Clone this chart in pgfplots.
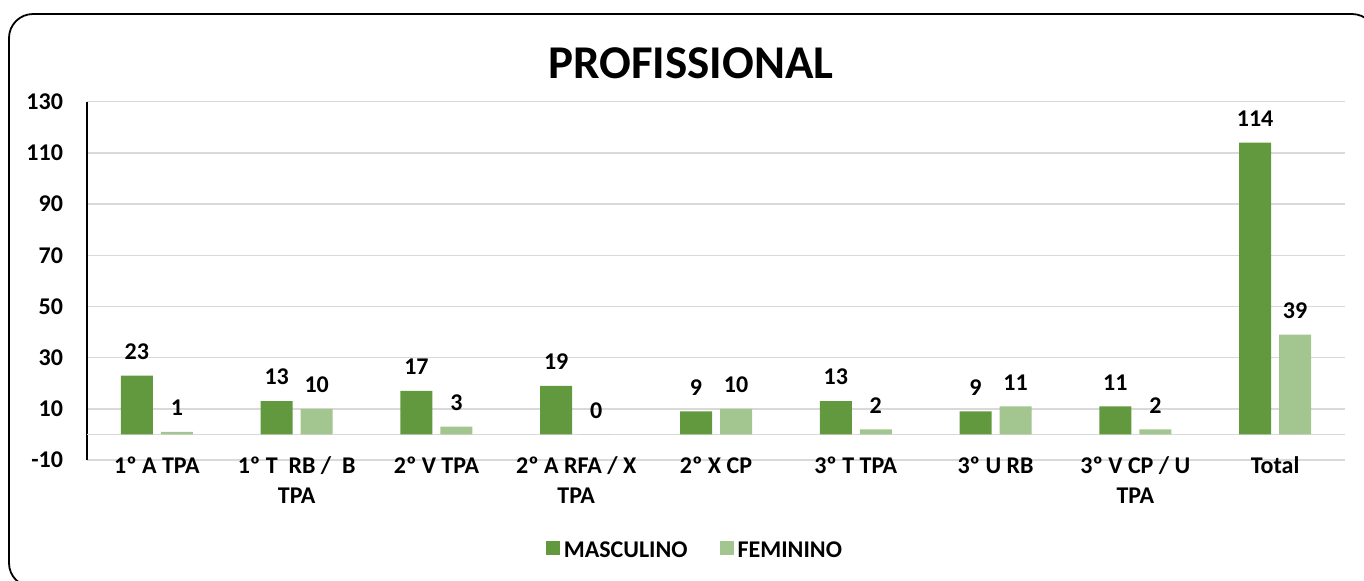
\documentclass[border=0pt]{standalone}
\usepackage{pgfplots}
\pgfplotsset{compat=1.18}
\usepackage{fontspec}
\setmainfont{Carlito}
\definecolor{masc}{HTML}{62993E}
\definecolor{fem}{HTML}{A3C58F}
\definecolor{gridc}{HTML}{D9D9D9}

\begin{document}
\begin{tikzpicture}
\path[use as bounding box] (0,0) rectangle (682pt,-290pt);
\draw[line width=0.9pt, rounded corners=12pt] (4.5pt,-7pt) rectangle (688pt,-293.5pt);
\node[font=\fontsize{23.5}{28}\selectfont\bfseries] at (345.5pt,-31.75pt) {PROFISSIONAL};
\begin{axis}[
  at={(43.5pt,-230pt)}, anchor=south west,
  scale only axis, width=629pt, height=179.15pt,
  xmin=-0.5, xmax=8.5, ymin=-10, ymax=130,
  ybar, bar width=16pt,
  axis lines*=left,
  x axis line style={draw=none},
  y axis line style={line width=1pt, black},
  ytick={-10,10,30,50,70,90,110,130},
  yticklabels={-10,10,30,50,70,90,110,130},
  ymajorgrids,
  major grid style={gridc, line width=0.75pt},
  extra y ticks={0}, extra y tick labels={},
  extra y tick style={grid=major, major grid style={gridc, line width=0.75pt}},
  xtick={0,1,2,3,4,5,6,7,8},
  xticklabels={1º A TPA, {1º T~ RB /~ B\\TPA}, 2º V TPA, {2º A RFA / X\\TPA}, 2º X CP, 3º T TPA, 3º U RB, {3º V CP / U\\TPA}, Total},
  major tick length=0pt,
  yticklabel style={font=\fontsize{12}{14}\selectfont\bfseries, xshift=-8.5pt},
  xticklabel style={font=\fontsize{12}{15}\selectfont\bfseries, align=center, yshift=5pt},
  /pgf/number format/assume math mode=true,
  nodes near coords,
  nodes near coords style={font=\fontsize{12}{14}\selectfont\bfseries, yshift=4.5pt, text=black},
  legend style={at={(0.484,-0.255)}, anchor=center, draw=none, legend columns=2,
    font=\fontsize{12}{14}\selectfont\bfseries,
    /tikz/every even column/.append style={column sep=14pt}},
  legend image code/.code={\fill[#1] (-1pt,-2pt) rectangle (6pt,5pt);},
]
\addplot[fill=masc, draw=none, bar shift=-10pt] coordinates {(0,23) (1,13) (2,17) (3,19) (4,9) (5,13) (6,9) (7,11) (8,114)};
\addplot[fill=fem, draw=none, bar shift=10pt] coordinates {(0,1) (1,10) (2,3) (3,0) (4,10) (5,2) (6,11) (7,2) (8,39)};
\legend{MASCULINO, FEMININO}
\end{axis}
\end{tikzpicture}
\end{document}
